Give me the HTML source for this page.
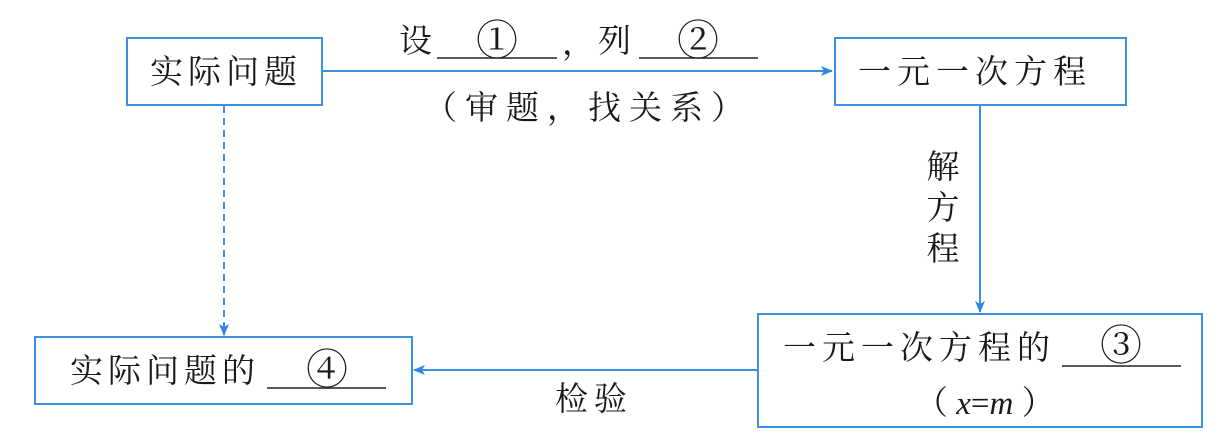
<!DOCTYPE html>
<html><head><meta charset="utf-8"><style>
html,body{margin:0;padding:0;background:#fff;}
svg{display:block;}
text{font-family:"Liberation Serif","Noto Serif CJK SC",serif;fill:#1a1a1a;}
</style></head><body>
<svg width="1223" height="437" viewBox="0 0 1223 437" xmlns="http://www.w3.org/2000/svg">
<defs>
<marker id="ah" markerWidth="12" markerHeight="10" refX="11" refY="5" orient="auto" markerUnits="userSpaceOnUse">
<path d="M0,0 L12,5 L0,10 L3,5 Z" fill="#2f86e6"/>
</marker>
</defs>
<g fill="none" stroke="#3b8fe0" stroke-width="2">
<rect x="127" y="38" width="195" height="67"/>
<rect x="835" y="38" width="291" height="67"/>
<rect x="758" y="314" width="444" height="113"/>
<rect x="35" y="337" width="377" height="67"/>
</g>
<g stroke="#3b8fe0" stroke-width="2" fill="none">
<line x1="322" y1="71" x2="832" y2="71" marker-end="url(#ah)"/>
<line x1="980" y1="105" x2="980" y2="312" marker-end="url(#ah)"/>
<line x1="758" y1="370" x2="414" y2="370" marker-end="url(#ah)"/>
<line x1="224" y1="106" x2="224" y2="335" stroke-dasharray="7,5" marker-end="url(#ah)"/>
</g>
<g font-size="33">
<text x="150" y="83" letter-spacing="5">实际问题</text>
<text x="858" y="83" letter-spacing="6">一元一次方程</text>
<text x="399" y="52">设</text>
<text x="497" y="55" text-anchor="middle" font-size="42">①</text>
<text x="562" y="54">，</text>
<text x="598" y="52">列</text>
<text x="698" y="55" text-anchor="middle" font-size="42">②</text>
<text x="424" y="119" letter-spacing="8">（审题，找关系）</text>
<text x="943" y="178" text-anchor="middle">解</text>
<text x="943" y="219" text-anchor="middle">方</text>
<text x="943" y="260" text-anchor="middle">程</text>
<text x="555" y="410" letter-spacing="6">检验</text>
<text x="783" y="359" letter-spacing="6">一元一次方程的</text>
<text x="1121" y="360" text-anchor="middle" font-size="42">③</text>
<text x="915" y="414">（ <tspan font-style="italic">x</tspan>=<tspan font-style="italic">m</tspan> ）</text>
<text x="70" y="382" letter-spacing="5">实际问题的</text>
<text x="327" y="384" text-anchor="middle" font-size="42">④</text>
</g>
<g stroke="#222" stroke-width="1.6">
<line x1="437" y1="58" x2="557" y2="58"/>
<line x1="639" y1="58" x2="758" y2="58"/>
<line x1="1062" y1="366" x2="1181" y2="366"/>
<line x1="267" y1="388" x2="386" y2="388"/>
</g>
</svg>
</body></html>
